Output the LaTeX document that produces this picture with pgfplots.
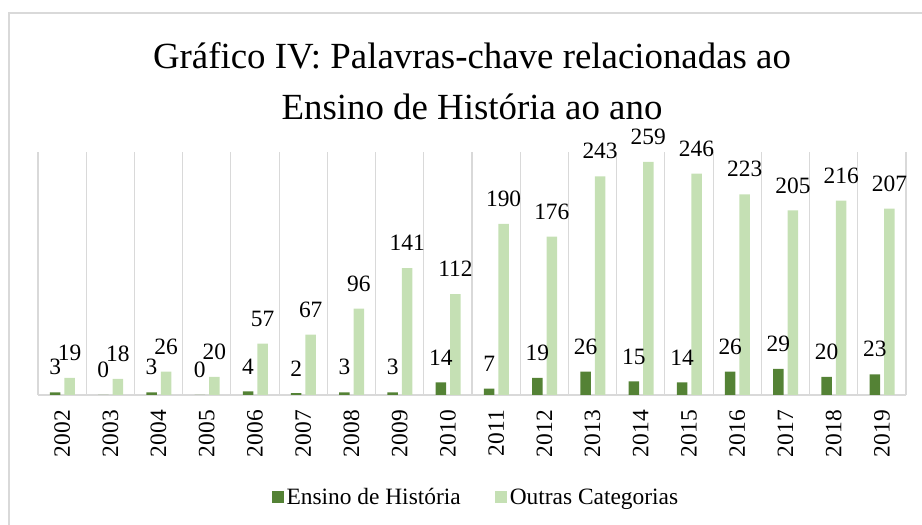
\documentclass[border=0pt]{standalone}
\usepackage{pgfplots}
\pgfplotsset{compat=1.18}
\usepackage{fontspec}
\setmainfont{Liberation Serif}
\definecolor{dk}{HTML}{548235}
\definecolor{lt}{HTML}{C5E0B4}
\definecolor{gr}{HTML}{D9D9D9}
\begin{document}
\begin{tikzpicture}
\useasboundingbox (0,0) rectangle (922bp,525bp);
\draw[gr, line width=1.2bp] (9bp,0bp) -- (9bp,512bp) -- (922bp,512bp);
\node[anchor=base, inner sep=0pt, font=\fontsize{37}{44}\selectfont] at (472bp,456.7bp) {Gráfico IV: Palavras-chave relacionadas ao};
\node[anchor=base, inner sep=0pt, font=\fontsize{37}{44}\selectfont] at (472bp,405.7bp) {Ensino de História ao ano};
\begin{axis}[
  at={(38bp,130bp)}, anchor=south west,
  scale only axis, width=868bp, height=243bp,
  ymin=0, ymax=270, xmin=-0.5, xmax=17.5,
  axis y line=none, axis x line*=bottom,
  x axis line style={-, draw=gr, line width=1.2bp},
  xtick={0,...,17},
  xticklabels={2002,2003,2004,2005,2006,2007,2008,2009,2010,2011,2012,2013,2014,2015,2016,2017,2018,2019},
  minor xtick={-0.5,0.5,...,17.5},
  xminorgrids, minor grid style={draw=gr, line width=1.2bp},
  major tick length=0pt, minor tick length=0pt, ytick=\empty,
  xticklabel style={rotate=90, anchor=east, inner sep=0pt, font=\fontsize{23.5}{28}\selectfont},
  xticklabel shift=15bp,
  /pgf/number format/assume math mode=true,
  ybar, bar width=10.5bp,
  nodes near coords,
  every node near coord/.append style={font=\fontsize{23.5}{28}\selectfont, inner sep=0pt, anchor=south, yshift=17bp, text=black},
  legend columns=2,
  legend style={draw=none, fill=none, at={(0.505,-0.42)}, anchor=center,
    font=\fontsize{23.5}{28}\selectfont,
    nodes={inner sep=2.5bp},
    /tikz/every even column/.append style={column sep=32bp}},
  legend image code/.code={\fill[#1] (0bp,-6bp) rectangle (12bp,6bp);},
]
\addplot[fill=dk, draw=none, bar shift=-7bp] coordinates {
(0,3) (1,0) (2,3) (3,0) (4,4) (5,2) (6,3) (7,3) (8,14) (9,7) (10,19) (11,26) (12,15) (13,14) (14,26) (15,29) (16,20) (17,23)};
\addplot[fill=lt, draw=none, bar shift=7.5bp] coordinates {
(0,19) (1,18) (2,26) (3,20) (4,57) (5,67) (6,96) (7,141) (8,112) (9,190) (10,176) (11,243) (12,259) (13,246) (14,223) (15,205) (16,216) (17,207)};
\legend{Ensino de História, Outras Categorias}
\end{axis}
\end{tikzpicture}
\end{document}
